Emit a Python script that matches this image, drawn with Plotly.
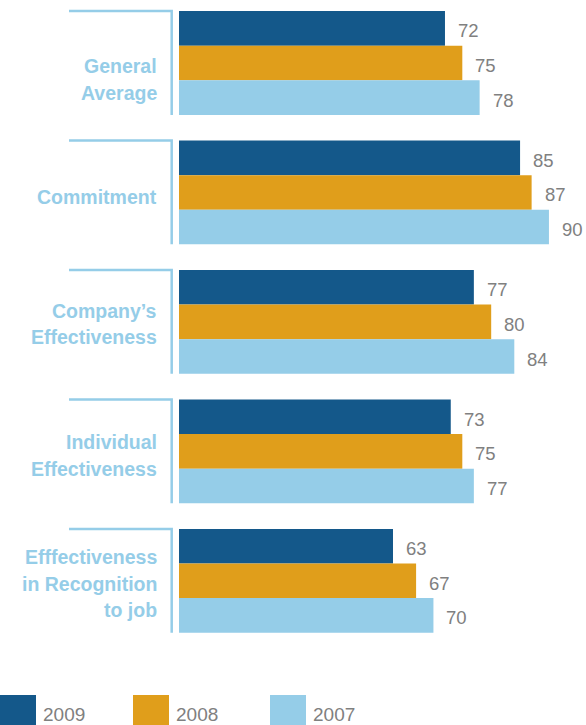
import plotly.graph_objects as go

# Survey scores by dimension and year
categories = [
    "General<br>Average",
    "Commitment",
    "Company’s<br>Effectiveness",
    "Individual<br>Effectiveness",
    "Efffectiveness<br>in Recognition<br>to job",
]
years = ["2009", "2008", "2007"]
scores_2009 = [72, 85, 77, 73, 63]
scores_2008 = [75, 87, 80, 75, 67]
scores_2007 = [78, 90, 84, 77, 70]

series = [scores_2009, scores_2008, scores_2007]
colors = ["#14588a", "#e09e1b", "#95cde8"]
label_blue = "#95cde8"
value_gray = "#808080"

W, H = 586, 725
FONT = "Liberation Sans, Arial, sans-serif"


def px(x):
    return x / W


def py(y):
    return 1 - y / H


bargap = 0.198
n = len(categories)
pos = list(range(n))
bar_w = (1 - bargap) / len(series)

fig = go.Figure()
for name, vals, col in zip(years, series, colors):
    fig.add_trace(go.Bar(
        y=pos, x=vals, orientation="h", name=name,
        marker=dict(color=col, line=dict(width=0)),
        base=0, showlegend=False, hoverinfo="skip",
    ))

annotations = []
shapes = []

# value labels to the right of each bar
for k, vals in enumerate(series):
    off = (k - (len(series) - 1) / 2) * bar_w
    for i, v in enumerate(vals):
        annotations.append(dict(
            x=v, y=i + off, xref="x", yref="y", text=str(v),
            showarrow=False, xanchor="left", yanchor="middle",
            xshift=11, yshift=-2.5,
            font=dict(family=FONT, size=18.5, color=value_gray),
        ))

# category labels (one annotation per line) and brackets
label_drop = [16.5, 4.3, 2, 4, 2.9]
line_step = 26.5
half = (1 - bargap) / 2
for i, cat in enumerate(categories):
    lines = cat.split("<br>")
    m = len(lines)
    for j, ln in enumerate(lines):
        drop = label_drop[i] + (j - (m - 1) / 2) * line_step
        annotations.append(dict(
            x=px(159), y=i, xref="paper", yref="y", text=ln,
            showarrow=False, xanchor="right", yanchor="middle", align="right",
            yshift=-drop,
            font=dict(family=FONT, size=19.5, color=label_blue, weight="bold"),
        ))
    shapes.append(dict(
        type="path", xref="paper", yref="y",
        path=f"M {px(69)},{i - half} L {px(171.7)},{i - half} L {px(171.7)},{i + half}",
        line=dict(color=label_blue, width=2.5),
    ))

# legend drawn as swatches with labels
legend_x = [0, 133, 270]
for name, col, lx in zip(years, colors, legend_x):
    shapes.append(dict(
        type="rect", xref="paper", yref="paper",
        x0=px(lx), x1=px(lx + 36), y0=py(725), y1=py(695),
        fillcolor=col, line=dict(width=0),
    ))
    annotations.append(dict(
        x=px(lx + 41), y=py(714), xref="paper", yref="paper", text=name,
        showarrow=False, xanchor="left", yanchor="middle",
        font=dict(family=FONT, size=19, color=value_gray),
    ))

slope = 5.776
x0 = 25.95
fig.update_layout(
    width=W, height=H,
    margin=dict(l=0, r=0, t=0, b=0),
    paper_bgcolor="white", plot_bgcolor="white",
    barmode="group", bargap=bargap, bargroupgap=0,
    xaxis=dict(domain=[px(179), 1], range=[x0, x0 + (W - 179) / slope],
               visible=False, fixedrange=True),
    yaxis=dict(domain=[py(660), 1], range=[(660 - 63) / 129.45, -63 / 129.45],
               visible=False, fixedrange=True),
    annotations=annotations,
    shapes=shapes,
    showlegend=False,
)

fig.write_html("out.html")
